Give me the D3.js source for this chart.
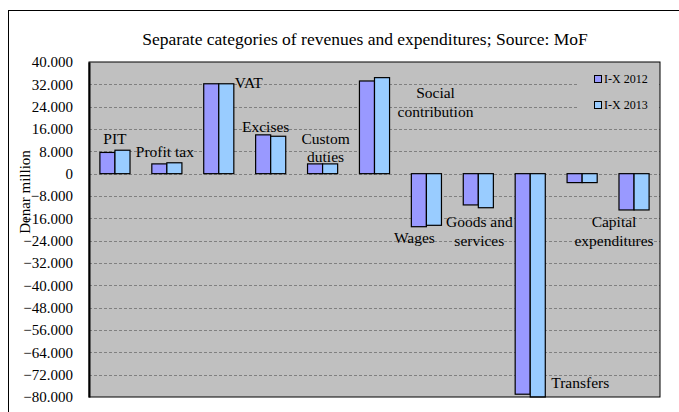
<!DOCTYPE html>
<html>
<head>
<meta charset="utf-8">
<script src="https://cdn.jsdelivr.net/npm/d3@7"></script>
<style>
  body { margin: 0; background: #fff; }
  svg { display: block; font-family: "Liberation Serif", "DejaVu Serif", serif; }
</style>
</head>
<body>
<svg id="chart" width="679" height="412"></svg>
<script>
// data (Denar million, thousands shown with dot)
var categories = ["PIT", "Profit tax", "VAT", "Excises", "Custom duties", "Social contribution",
  "Wages", "Goods and services", "Transfers", "Other", "Capital expenditures"];
var series = ["I-X 2012", "I-X 2013"];
var values2012 = [7.6, 3.5, 32.2, 13.9, 3.5, 33.2, -19.0, -11.2, -79.0, -3.2, -13.0];
var values2013 = [8.4, 3.9, 32.2, 13.4, 3.5, 34.4, -18.5, -12.2, -80.0, -3.2, -13.0];
var yTicks = [40, 32, 24, 16, 8, 0, -8, -16, -24, -32, -40, -48, -56, -64, -72, -80];
// text shown next to bars (lines), category 10 has no label in the source
var labelLines = [["PIT"], ["Profit tax"], ["VAT"], ["Excises"], ["Custom", "duties"],
  ["Social", "contribution"], ["Wages"], ["Goods and", "services"], ["Transfers"], [], ["Capital", "expenditures"]];

// where the labels sit: px offset from band centre, and value level of each line
var labelLayout = [
  {dx: 0, y: [12.4]}, {dx: -2, y: [7.8]}, {dx: 30, y: [32.5]}, {dx: -5, y: [16.7]},
  {dx: 3, y: [12.4, 6.0]}, {dx: 61, y: [28.9, 22.1]}, {dx: -12, y: [-23.0]},
  {dx: 1, y: [-17.0, -23.8]}, {dx: 50, y: [-74.7]}, {dx: 0, y: []}, {dx: -20, y: [-17.3, -24.1]}
];

var colors = ["#9999ff", "#99ccff"];
var fmt = function(v) { return v === 0 ? "0" : d3.format(".3f")(v); };

var svg = d3.select("#chart");
var margin = {top: 62, right: 19, bottom: 15, left: 89};
var width = +svg.attr("width"), height = +svg.attr("height");

// outer chart border
svg.append("rect")
  .attr("x", 8.5).attr("y", 10.5)
  .attr("width", 700).attr("height", 500)
  .attr("fill", "#fff").attr("stroke", "#000").attr("stroke-width", 1);

var x = d3.scaleBand()
  .domain(categories)
  .range([margin.left, width - margin.right])
  .paddingInner(0.42).paddingOuter(0.21);

var xSub = d3.scaleBand().domain(series).range([0, x.bandwidth()]);

var y = d3.scaleLinear()
  .domain([-80, 40])
  .range([height - margin.bottom, margin.top]);

// plot area
svg.append("rect")
  .attr("x", margin.left).attr("y", margin.top)
  .attr("width", width - margin.right - margin.left)
  .attr("height", y(-80) - margin.top)
  .attr("fill", "#c0c0c0");

// gridlines
svg.append("g")
  .selectAll("line")
  .data(yTicks.filter(function(t) { return t > -80 && t < 40; }))
  .join("line")
  .attr("x1", margin.left).attr("x2", width - margin.right)
  .attr("y1", function(d) { return Math.round(y(d)) + 0.5; })
  .attr("y2", function(d) { return Math.round(y(d)) + 0.5; })
  .attr("stroke", "#808080")
  .attr("stroke-dasharray", "3,2");

// legend box hides the gridlines behind it
var legend = svg.append("g");
legend.append("rect")
  .attr("x", 578).attr("y", 66).attr("width", 80).attr("height", 52)
  .attr("fill", "#c0c0c0");
series.forEach(function(s, i) {
  var ly = 79 + i * 26;
  legend.append("rect")
    .attr("x", 594.5).attr("y", ly - 3.5).attr("width", 7).attr("height", 7)
    .attr("fill", colors[i]).attr("stroke", "#000");
  legend.append("text")
    .attr("x", 604).attr("y", ly).attr("dy", "0.35em")
    .attr("font-size", 12).attr("fill", "#000")
    .text(s);
});

// bars
var rows = categories.map(function(c, i) { return {cat: c, v: [values2012[i], values2013[i]]}; });
svg.append("g")
  .selectAll("g")
  .data(rows)
  .join("g")
  .attr("transform", function(d) { return "translate(" + x(d.cat) + ",0)"; })
  .selectAll("rect")
  .data(function(d) { return d.v.map(function(v, j) { return {s: series[j], v: v, j: j}; }); })
  .join("rect")
  .attr("x", function(d) { return xSub(d.s); })
  .attr("y", function(d) { return y(Math.max(0, d.v)); })
  .attr("width", xSub.bandwidth())
  .attr("height", function(d) { return Math.abs(y(d.v) - y(0)); })
  .attr("fill", function(d) { return colors[d.j]; })
  .attr("stroke", "#000")
  .attr("stroke-width", 1.2);

// plot border and left axis
svg.append("rect")
  .attr("x", margin.left).attr("y", margin.top)
  .attr("width", width - margin.right - margin.left)
  .attr("height", y(-80) - margin.top)
  .attr("fill", "none").attr("stroke", "#000").attr("stroke-width", 1);

var yAxis = svg.append("g")
  .attr("transform", "translate(" + margin.left + ",0)")
  .call(d3.axisLeft(y).tickValues(yTicks).tickFormat(fmt).tickSize(0).tickPadding(16));
yAxis.select(".domain").attr("stroke", "#000").attr("stroke-width", 2);
yAxis.selectAll("text")
  .attr("font-family", "Liberation Serif, serif")
  .attr("font-size", 15).attr("fill", "#000");

// category labels
labelLines.forEach(function(lines, i) {
  var lay = labelLayout[i];
  lines.forEach(function(t, k) {
    svg.append("text")
      .attr("x", x(categories[i]) + x.bandwidth() / 2 + lay.dx)
      .attr("y", y(lay.y[k]))
      .attr("dy", "0.35em")
      .attr("text-anchor", "middle")
      .attr("font-size", 15.5).attr("fill", "#000")
      .text(t);
  });
});

// title
svg.append("text")
  .attr("x", 365).attr("y", 39).attr("dy", "0.35em")
  .attr("text-anchor", "middle")
  .attr("font-size", 17.5).attr("fill", "#000")
  .text("Separate categories of revenues and expenditures; Source: MoF");

// y axis title
svg.append("text")
  .attr("transform", "translate(25,192) rotate(-90)")
  .attr("dy", "0.35em")
  .attr("text-anchor", "middle")
  .attr("font-size", 15).attr("fill", "#000")
  .text("Denar million");
</script>
</body>
</html>
